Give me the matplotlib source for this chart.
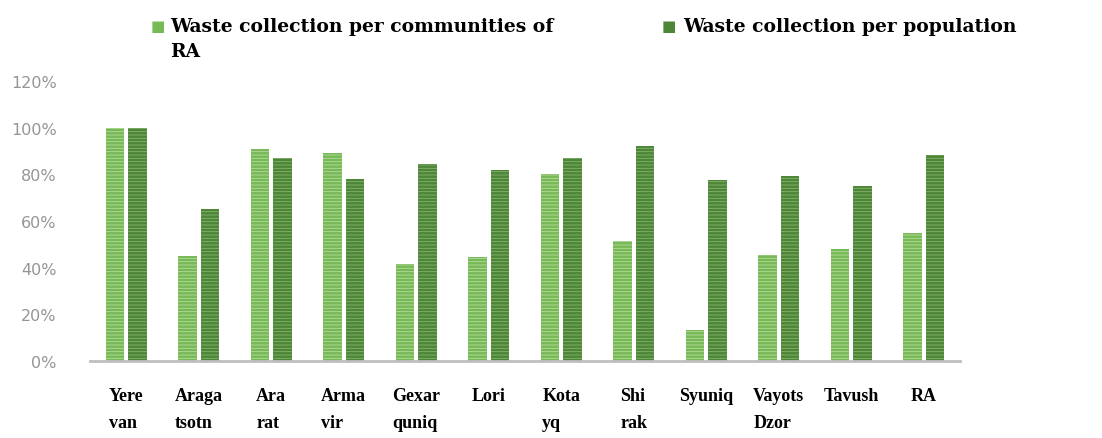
import numpy as np
import matplotlib
matplotlib.use('Agg')
import matplotlib.pyplot as plt
from matplotlib.ticker import PercentFormatter

# datos
regions = ['Yere\nvan', 'Araga\ntsotn', 'Ara\nrat', 'Arma\nvir', 'Gexar\nquniq', 'Lori',
           'Kota\nyq', 'Shi\nrak', 'Syuniq', 'Vayots\nDzor', 'Tavush', 'RA']
per_communities = [100, 45, 91, 89, 41.5, 44.5, 80, 51.5, 13.5, 45.5, 48, 55]
per_population = [100, 65, 87, 78, 84.5, 82, 87, 92, 77.5, 79.5, 75, 88.5]
yticks = [0, 20, 40, 60, 80, 100, 120]

label_1 = 'Waste collection per communities of\nRA'
label_2 = 'Waste collection per population'

light = '#78b957'
dark = '#4d8636'

plt.rcParams['hatch.linewidth'] = 0.6

fig = plt.figure(figsize=(11.02, 4.39), dpi=100)
ax = fig.add_axes([0.0817, 0.1754, 0.7895, 0.6378])

x = np.arange(len(regions))
w = 0.26
ax.bar(x - 0.155, per_communities, w, color=light, edgecolor='#b4dc9c', hatch='-----', linewidth=0)
ax.bar(x + 0.155, per_population, w, color=dark, edgecolor='#86b370', hatch='-----', linewidth=0)

ax.set_xlim(-0.5, len(regions) - 0.5)
ax.set_ylim(0, 120)
ax.set_yticks(yticks)
ax.yaxis.set_major_formatter(PercentFormatter(decimals=0))
ax.set_xticks(x)
ax.set_xticklabels(regions, fontfamily='Liberation Serif', fontweight='bold', fontsize=13,
                   linespacing=1.75, va='top', multialignment='left')

for s in ['top', 'right', 'left']:
    ax.spines[s].set_visible(False)
ax.spines['bottom'].set_color('#bfbfbf')
ax.spines['bottom'].set_linewidth(2)
ax.tick_params(axis='both', length=0)
ax.tick_params(axis='y', pad=24, labelcolor='#959595', labelsize=11.5)
ax.tick_params(axis='x', pad=19)

# leyenda manual (cuadrito + texto)
fig.text(0.137, 0.940, '\u25a0', color=light, fontsize=11, va='center', ha='left')
fig.text(0.154, 0.958, label_1, fontfamily='DejaVu Serif', fontweight='bold', fontsize=13.5,
         va='top', ha='left', linespacing=1.5)
fig.text(0.600, 0.940, '\u25a0', color=dark, fontsize=11, va='center', ha='left')
fig.text(0.620, 0.958, label_2, fontfamily='DejaVu Serif', fontweight='bold', fontsize=13.5,
         va='top', ha='left')

plt.savefig('out.png', dpi=100, facecolor='white')
